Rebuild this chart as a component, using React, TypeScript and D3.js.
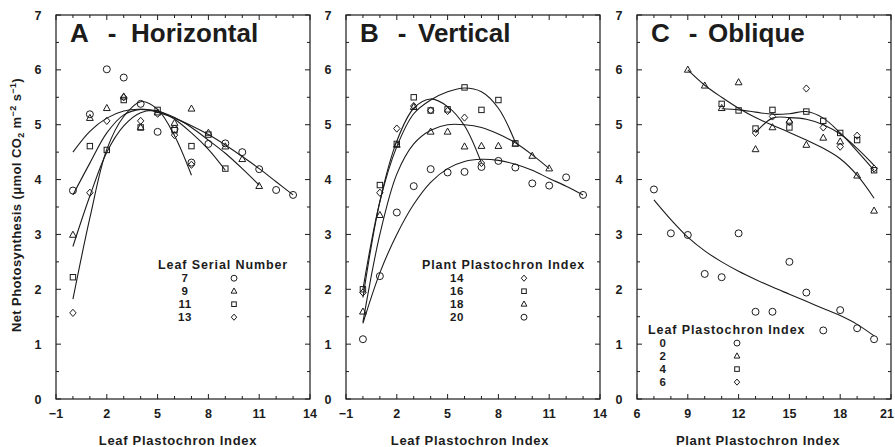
import React from 'react';
import * as d3 from 'd3';

// ---------- data ----------
const Y_TICKS = [0, 1, 2, 3, 4, 5, 6, 7];
const LPI_TICKS = [-1, 2, 5, 8, 11, 14];
const PPI_TICKS = [6, 9, 12, 15, 18, 21];

// Panel A - Horizontal (x = leaf plastochron index, series = leaf serial number)
const A_LABELS = ['7', '9', '11', '13'];
const A_OBS_7 = [3.8, 5.19, 6.01, 5.86, 5.38, 4.87, 4.92, 4.31, 4.65, 4.66, 4.5, 4.19, 3.81, 3.72];
const A_OBS_9 = [2.99, 5.12, 5.3, 5.51, 4.95, 5.22, 5.03, 5.29, 4.85, 4.6, 4.37, 3.88];
const A_OBS_11 = [2.22, 4.61, 4.54, 5.45, 4.95, 5.27, 4.9, 4.61, 4.82, 4.2];
const A_OBS_13 = [1.57, 3.76, 5.07, 5.5, 5.07, 5.2, 4.81, 4.27];
const A_FIT_7 = [4.5, 4.88, 5.12, 5.25, 5.28, 5.23, 5.12, 4.98, 4.82, 4.63, 4.42, 4.2, 3.96, 3.72];
const A_FIT_9 = [3.72, 4.3, 4.85, 5.18, 5.28, 5.25, 5.13, 4.95, 4.72, 4.48, 4.2, 3.9];
const A_FIT_11 = [2.78, 3.7, 4.5, 4.98, 5.22, 5.25, 5.1, 4.85, 4.55, 4.17];
const A_FIT_13 = [1.82, 3.3, 4.55, 5.15, 5.42, 5.28, 4.8, 4.08];
const A_START = [0, 0, 0, 0];

// Panel B - Vertical (series = plant plastochron index)
const B_LABELS = ['14', '16', '18', '20'];
const B_OBS_14 = [1.94, 3.76, 4.93, 5.34, 5.26, 5.25, 5.13, 4.3];
const B_OBS_16 = [2.0, 3.9, 4.65, 5.5, 5.26, 5.28, 5.68, 5.27, 5.45, 4.66];
const B_OBS_18 = [1.59, 3.35, 4.63, 5.32, 4.87, 4.87, 4.6, 4.61, 4.61, 4.65, 4.43, 4.2];
const B_OBS_20 = [1.09, 2.24, 3.4, 3.88, 4.19, 4.13, 4.14, 4.23, 4.34, 4.22, 3.93, 3.89, 4.04, 3.72];
const B_FIT_14 = [1.85, 3.6, 4.7, 5.3, 5.47, 5.33, 4.98, 4.3];
const B_FIT_16 = [2.0, 3.6, 4.6, 5.2, 5.45, 5.6, 5.67, 5.6, 5.3, 4.68];
const B_FIT_18 = [1.4, 3.0, 4.1, 4.65, 4.9, 5.0, 5.0, 4.95, 4.83, 4.67, 4.45, 4.2];
const B_FIT_20 = [1.38, 2.3, 3.0, 3.55, 3.95, 4.2, 4.33, 4.37, 4.35, 4.28, 4.17, 4.02, 3.88, 3.72];
const B_START = [0, 0, 0, 0];

// Panel C - Oblique (x = plant plastochron index, series = leaf plastochron index)
const C_LABELS = ['0', '2', '4', '6'];
const C_OBS_0 = [3.82, 3.02, 2.99, 2.28, 2.22, 3.02, 1.59, 1.59, 2.5, 1.94, 1.25, 1.62, 1.29, 1.09];
const C_OBS_2 = [6.0, 5.71, 5.3, 5.77, 4.55, 4.95, 5.07, 4.63, 4.76, 4.69, 4.07, 3.43];
const C_OBS_4 = [5.38, 5.26, 4.93, 5.27, 4.95, 5.24, 5.07, 4.85, 4.72, 4.17];
const C_OBS_6 = [4.85, 5.15, 5.05, 5.66, 4.95, 4.6, 4.8, 4.2];
const C_FIT_0 = [3.63, 3.27, 2.95, 2.7, 2.5, 2.33, 2.18, 2.04, 1.91, 1.78, 1.65, 1.52, 1.36, 1.15];
const C_FIT_2 = [6.0, 5.72, 5.5, 5.3, 5.13, 4.99, 4.86, 4.72, 4.57, 4.38, 4.08, 3.66];
const C_FIT_4 = [5.29, 5.27, 5.23, 5.19, 5.2, 5.24, 5.12, 4.85, 4.52, 4.17];
const C_FIT_6 = [4.85, 5.12, 5.13, 5.1, 5.0, 4.83, 4.57, 4.26];
const C_START = [7, 9, 11, 13];

// ---------- layout ----------
const W = 895;
const TOP = 15;
const BOTTOM = 399;
const FONT = "'Liberation Sans', Arial, Helvetica, sans-serif";
const INK = '#1c1c1c';

type Shape = 'circle' | 'triangle' | 'square' | 'diamond';

function Marker({ shape, cx, cy, s = 1 }: { shape: Shape; cx: number; cy: number; s?: number }) {
  const common = { fill: 'none', stroke: INK, strokeWidth: 1 };
  if (shape === 'circle') return <circle cx={cx} cy={cy} r={3.5 * s} {...common} />;
  if (shape === 'square') {
    const h = 2.7 * s;
    return <rect x={cx - h} y={cy - h} width={2 * h} height={2 * h} {...common} />;
  }
  if (shape === 'triangle') {
    const pts = [[cx, cy - 3.8 * s], [cx + 3.4 * s, cy + 2.3 * s], [cx - 3.4 * s, cy + 2.3 * s]];
    return <polygon points={pts.map(p => p.join(',')).join(' ')} {...common} />;
  }
  const pts = [[cx, cy - 3.6 * s], [cx + 3.2 * s, cy], [cx, cy + 3.6 * s], [cx - 3.2 * s, cy]];
  return <polygon points={pts.map(p => p.join(',')).join(' ')} {...common} />;
}

interface Series { label: string; shape: Shape; start: number; obs: number[]; fit: number[] }

interface PanelProps {
  left: number; right: number; domain: [number, number]; ticks: number[];
  letter: string; word: string; wordOffset: number;
  xTitle: string; xTitleShift: number;
  series: Series[];
  legend: { title: string; titleX: number; titleY: number; numX: number; symX: number; rowY: number[] };
}

function Panel(p: PanelProps) {
  const x = d3.scaleLinear().domain(p.domain).range([p.left, p.right]);
  const y = d3.scaleLinear().domain([0, 7]).range([BOTTOM, TOP]);
  const line = d3.line<[number, number]>().x(d => x(d[0])).y(d => y(d[1])).curve(d3.curveCatmullRom.alpha(0.5));
  const unitTicks = d3.range(p.domain[0], p.domain[1] + 0.001, 1);
  const halfTicks = d3.range(0, 7.001, 0.5);
  const ticksEls: JSX.Element[] = [];
  unitTicks.forEach((v, i) => {
    const major = p.ticks.includes(v);
    const L = major ? 5 : 3;
    ticksEls.push(<line key={'b' + i} x1={x(v)} x2={x(v)} y1={BOTTOM} y2={BOTTOM - L} stroke={INK} strokeWidth={1} />);
    ticksEls.push(<line key={'t' + i} x1={x(v)} x2={x(v)} y1={TOP} y2={TOP + L} stroke={INK} strokeWidth={1} />);
  });
  halfTicks.forEach((v, i) => {
    const major = Number.isInteger(v);
    const L = major ? 5 : 3;
    ticksEls.push(<line key={'l' + i} x1={p.left} x2={p.left + L} y1={y(v)} y2={y(v)} stroke={INK} strokeWidth={1} />);
    ticksEls.push(<line key={'r' + i} x1={p.right} x2={p.right - L} y1={y(v)} y2={y(v)} stroke={INK} strokeWidth={1} />);
  });
  return (
    <g>
      <rect x={p.left} y={TOP} width={p.right - p.left} height={BOTTOM - TOP} fill="none" stroke={INK} strokeWidth={1.2} />
      {ticksEls}
      {Y_TICKS.map(v => (
        <text key={'yl' + v} x={p.left - 18} y={y(v) + 4.5} textAnchor="middle" fontSize={12.5} fontWeight="bold" fontFamily={FONT} fill={INK}>{v}</text>
      ))}
      {p.ticks.map(v => {
        const px = x(v);
        const overflow = px + 8 > W - 1;
        return (
          <text key={'xl' + v} x={overflow ? W - 1 : px} y={418} textAnchor={overflow ? 'end' : 'middle'} fontSize={12.5} fontWeight="bold" fontFamily={FONT} fill={INK}>{v < 0 ? '\u2212' + Math.abs(v) : v}</text>
        );
      })}
      <text x={(p.left + p.right) / 2 + p.xTitleShift} y={445} textAnchor="middle" fontSize={13} fontWeight="bold" letterSpacing={0.7} fontFamily={FONT} fill={INK}>{p.xTitle}</text>
      {/* panel title */}
      <text x={p.left + 14} y={42} fontSize={26} fontWeight="bold" fontFamily={FONT} fill={INK}>{p.letter}</text>
      <text x={p.left + 56} y={42} textAnchor="middle" fontSize={26} fontWeight="bold" fontFamily={FONT} fill={INK}>-</text>
      <text x={p.left + p.wordOffset} y={42} fontSize={26} fontWeight="bold" fontFamily={FONT} fill={INK}>{p.word}</text>
      {/* fitted curves */}
      {p.series.map(s => (
        <path key={'f' + s.label} d={line(s.fit.map((v, i) => [s.start + i, v] as [number, number])) || ''} fill="none" stroke={INK} strokeWidth={1.1} />
      ))}
      {/* observations */}
      {p.series.map(s => s.obs.map((v, i) => (
        <Marker key={'m' + s.label + i} shape={s.shape} cx={x(s.start + i)} cy={y(v)} />
      )))}
      {/* legend */}
      <text x={p.legend.titleX} y={p.legend.titleY} fontSize={12.5} fontWeight="bold" letterSpacing={0.9} fontFamily={FONT} fill={INK}>{p.legend.title}</text>
      {p.series.map((s, i) => (
        <g key={'lg' + s.label}>
          <text x={p.legend.numX} y={p.legend.rowY[i]} textAnchor="middle" fontSize={11.5} fontWeight="bold" letterSpacing={0.5} fontFamily={FONT} fill={INK}>{s.label}</text>
          <Marker shape={s.shape} cx={p.legend.symX} cy={p.legend.rowY[i] - 4} s={0.85} />
        </g>
      ))}
    </g>
  );
}

const A_SHAPES: Shape[] = ['circle', 'triangle', 'square', 'diamond'];
const B_SHAPES: Shape[] = ['diamond', 'square', 'triangle', 'circle'];
const C_SHAPES: Shape[] = ['circle', 'triangle', 'square', 'diamond'];

const A_OBS = [A_OBS_7, A_OBS_9, A_OBS_11, A_OBS_13];
const A_FIT = [A_FIT_7, A_FIT_9, A_FIT_11, A_FIT_13];
const B_OBS = [B_OBS_14, B_OBS_16, B_OBS_18, B_OBS_20];
const B_FIT = [B_FIT_14, B_FIT_16, B_FIT_18, B_FIT_20];
const C_OBS = [C_OBS_0, C_OBS_2, C_OBS_4, C_OBS_6];
const C_FIT = [C_FIT_0, C_FIT_2, C_FIT_4, C_FIT_6];

function build(labels: string[], shapes: Shape[], starts: number[], obs: number[][], fit: number[][]): Series[] {
  return labels.map((l, i) => ({ label: l, shape: shapes[i], start: starts[i], obs: obs[i], fit: fit[i] }));
}

export default function App() {
  const rowsAB = [282.2, 295.2, 308.2, 321.2];
  const rowsC = [347.1, 360.1, 373.1, 386.1];
  return (
    <svg width={W} height={447} style={{ position: 'absolute', left: 0, top: 0, background: '#fff' }}>
      <rect x={0} y={0} width={W} height={447} fill="#fff" />
      <text transform="translate(21,205) rotate(-90)" textAnchor="middle" fontSize={13} fontWeight="bold" letterSpacing={0.4} fontFamily={FONT} fill={INK}>
        Net Photosynthesis (μmol CO<tspan fontSize={9} dy={3}>2</tspan><tspan dy={-3}> m</tspan><tspan fontSize={9} dy={-5}>−2</tspan><tspan dy={5}> s</tspan><tspan fontSize={9} dy={-5}>−1</tspan><tspan dy={5}>)</tspan>
      </text>
      <Panel left={56} right={310} domain={[-1, 14]} ticks={LPI_TICKS} letter="A" word="Horizontal" wordOffset={75}
        xTitle="Leaf Plastochron Index" xTitleShift={-5}
        series={build(A_LABELS, A_SHAPES, A_START, A_OBS, A_FIT)}
        legend={{ title: 'Leaf Serial Number', titleX: 158, titleY: 269, numX: 185, symX: 234, rowY: rowsAB }} />
      <Panel left={346} right={600} domain={[-1, 14]} ticks={LPI_TICKS} letter="B" word="Vertical" wordOffset={72}
        xTitle="Leaf Plastochron Index" xTitleShift={-3}
        series={build(B_LABELS, B_SHAPES, B_START, B_OBS, B_FIT)}
        legend={{ title: 'Plant Plastochron Index', titleX: 422, titleY: 269, numX: 457, symX: 524, rowY: rowsAB }} />
      <Panel left={637} right={891} domain={[6, 21]} ticks={PPI_TICKS} letter="C" word="Oblique" wordOffset={71}
        xTitle="Plant Plastochron Index" xTitleShift={-6}
        series={build(C_LABELS, C_SHAPES, C_START, C_OBS, C_FIT)}
        legend={{ title: 'Leaf Plastochron Index', titleX: 648, titleY: 334, numX: 663, symX: 737, rowY: rowsC }} />
    </svg>
  );
}
